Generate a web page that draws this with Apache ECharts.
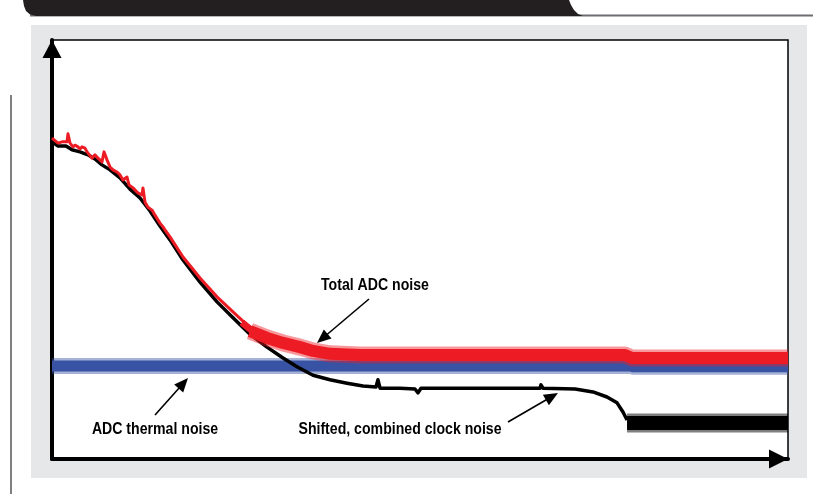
<!DOCTYPE html>
<html>
<head>
<meta charset="utf-8">
<script src="https://cdn.jsdelivr.net/npm/echarts@6/dist/echarts.min.js"></script>
<style>
html,body{margin:0;padding:0;background:#fff;}
#chart{width:813px;height:494px;}
</style>
</head>
<body>
<div id="chart"></div>
<script>
// x: time (0..100), y: noise level (0..100)
const redDecline = [[0,76.6],[0.27,76.6],[0.82,75.4],[1.36,75.7],[2.04,75.7],[2.17,77.6],[2.45,75.4],[2.85,74.5],[3.13,74.9],[3.53,74.5],[3.80,74.0],[4.08,74.5],[4.48,74.2],[4.76,73.3],[4.89,73.7],[5.43,71.8],[5.84,72.6],[6.25,71.8],[6.52,72.1],[6.79,70.9],[7.07,73.3],[7.47,71.4],[7.88,69.7],[8.29,69.0],[8.83,68.5],[9.24,67.8],[9.65,66.6],[10.19,67.3],[10.46,65.4],[11.01,64.7],[11.68,63.5],[12.23,63.0],[12.36,64.7],[12.64,61.3],[13.04,60.1],[13.59,59.4],[13.99,58.2],[14.67,56.3],[15.08,55.4],[15.35,54.7],[16.03,53.0],[17.80,48.2],[20.11,43.2],[22.42,38.7],[24.59,35.1],[26.49,32.0],[26.90,30.8]];
const redTaper = [[25.8,32.6],[26.49,31.6],[27.5,30.2],[28.4,29.4]];
const redBand = [[26.90,30.5],[29.21,28.9],[31.39,27.7],[33.70,26.7],[35.46,25.8],[37.77,25.1],[41.85,24.8],[77.85,24.8],[78.80,24.1],[100,24.1]];
const blueBand = [[0,22.2],[78.5,22.2],[79.0,22.0],[100,22.0]];
const blackDecline = [[0,75.7],[0.82,74.7],[1.90,74.7],[2.72,73.8],[3.80,73.3],[4.89,72.6],[5.84,71.6],[6.79,70.2],[7.88,69.0],[9.24,67.1],[10.60,64.4],[11.96,62.3],[13.32,59.2],[14.67,55.6],[16.03,52.3],[17.80,47.5],[20.11,42.2],[22.42,37.5],[24.59,33.7],[26.90,29.8],[29.21,26.7],[31.39,24.1],[33.29,22.0],[35.46,20.0],[37.77,18.9],[40.08,18.1],[42.26,17.4],[44.02,17.2],[44.29,18.9],[44.57,16.9],[47.28,16.9],[49.32,16.7],[49.73,15.8],[50.14,16.9],[55.43,16.9],[66.30,16.9],[66.44,17.7],[66.71,16.9],[71.06,16.7],[73.51,16.0],[75.41,14.8],[76.77,13.4],[77.58,11.2],[78.13,9.3]];
const blackBand = [[78.13,8.6],[100,8.6]];

const labels = ["Total ADC noise", "ADC thermal noise", "Shifted, combined clock noise"];

const RED = '#ed1c24', BLUE = '#3953a4', BLACK = '#000000';

function line(name, data, color, width, opacity, z) {
  return {
    name: name, type: 'line', data: data, showSymbol: false, symbol: 'none',
    z: z, silent: true, animation: false,
    lineStyle: { color: color, width: width, opacity: opacity, cap: 'butt', join: 'round' }
  };
}

function arrow(x1, y1, x2, y2) {
  const dx = x2 - x1, dy = y2 - y1, L = Math.sqrt(dx*dx + dy*dy);
  const ux = dx / L, uy = dy / L, hl = 14, hw = 6;
  const bx = x2 - ux*hl, by = y2 - uy*hl;
  return [
    { type: 'line', z: 100, shape: { x1: x1, y1: y1, x2: bx + ux*2, y2: by + uy*2 }, style: { stroke: '#000', lineWidth: 1.6 } },
    { type: 'polygon', z: 100, shape: { points: [[x2, y2], [bx - uy*hw, by + ux*hw], [bx + uy*hw, by - ux*hw]] }, style: { fill: '#000' } }
  ];
}

const font = 'bold 17px "Liberation Sans", Arial, sans-serif';
function text(str, x, y) {
  return { type: 'text', z: 100, x: x, y: y, scaleX: 0.83, style: { text: str, font: font, fill: '#000', align: 'center', verticalAlign: 'middle' } };
}

const headerPts = [[23,0],[569,0],[571,5],[574,10],[578,14],[583,16],[36,16],[30,14.5],[26,11],[24,6]];

const chart = echarts.init(document.getElementById('chart'), null, { renderer: 'canvas' });
chart.setOption({
  animation: false,
  backgroundColor: '#ffffff',
  grid: { left: 52, right: 25, top: 40, bottom: 35, show: true, backgroundColor: '#ffffff', borderColor: '#000', borderWidth: 1.5 },
  xAxis: {
    type: 'value', min: 0, max: 100,
    axisLabel: { show: false }, axisTick: { show: false }, splitLine: { show: false },
    axisLine: { show: true, onZero: false, symbol: ['none', 'triangle'], symbolSize: [19, 19], symbolOffset: [0, -9.5],
      lineStyle: { color: '#000', width: 4 } }
  },
  yAxis: {
    type: 'value', min: 0, max: 100,
    axisLabel: { show: false }, axisTick: { show: false }, splitLine: { show: false },
    axisLine: { show: true, onZero: false, symbol: ['none', 'triangle'], symbolSize: [19, 18], symbolOffset: [0, -9],
      lineStyle: { color: '#000', width: 4 } }
  },
  series: [
    line('blueFringe', blueBand, BLUE, 16, 0.45, 1),
    line('blue', blueBand, BLUE, 11, 1, 2),
    line('blackFringe', blackBand, BLACK, 19, 0.5, 3),
    line('blackBand', blackBand, BLACK, 14, 1, 4),
    line('black', blackDecline, BLACK, 3.5, 1, 5),
    line('redFringe', redBand, RED, 17, 0.45, 6),
    line('redBand', redBand, RED, 12, 1, 7),
    line('redTaper', redTaper, RED, 7, 1, 8),
    line('red', redDecline, RED, 3, 1, 9)
  ],
  graphic: { elements: [
    { type: 'rect', z: -100, shape: { x: 31, y: 25, width: 776, height: 453 }, style: { fill: '#e6e7e8' } },
    { type: 'rect', z: -100, shape: { x: 30, y: 14.5, width: 783, height: 2 }, style: { fill: '#6d6e71' } },
    { type: 'polygon', z: -99, shape: { points: headerPts }, style: { fill: '#231f20' } },
    { type: 'rect', z: -100, shape: { x: 10, y: 95, width: 2, height: 399 }, style: { fill: '#7f7f7f' } },
    text(labels[0], 375, 285),
    text(labels[1], 155, 429),
    text(labels[2], 400, 429)
  ].concat(arrow(369, 299, 317, 343)).concat(arrow(155, 415, 188, 378)).concat(arrow(508, 422, 558, 393)) }
});
</script>
</body>
</html>
